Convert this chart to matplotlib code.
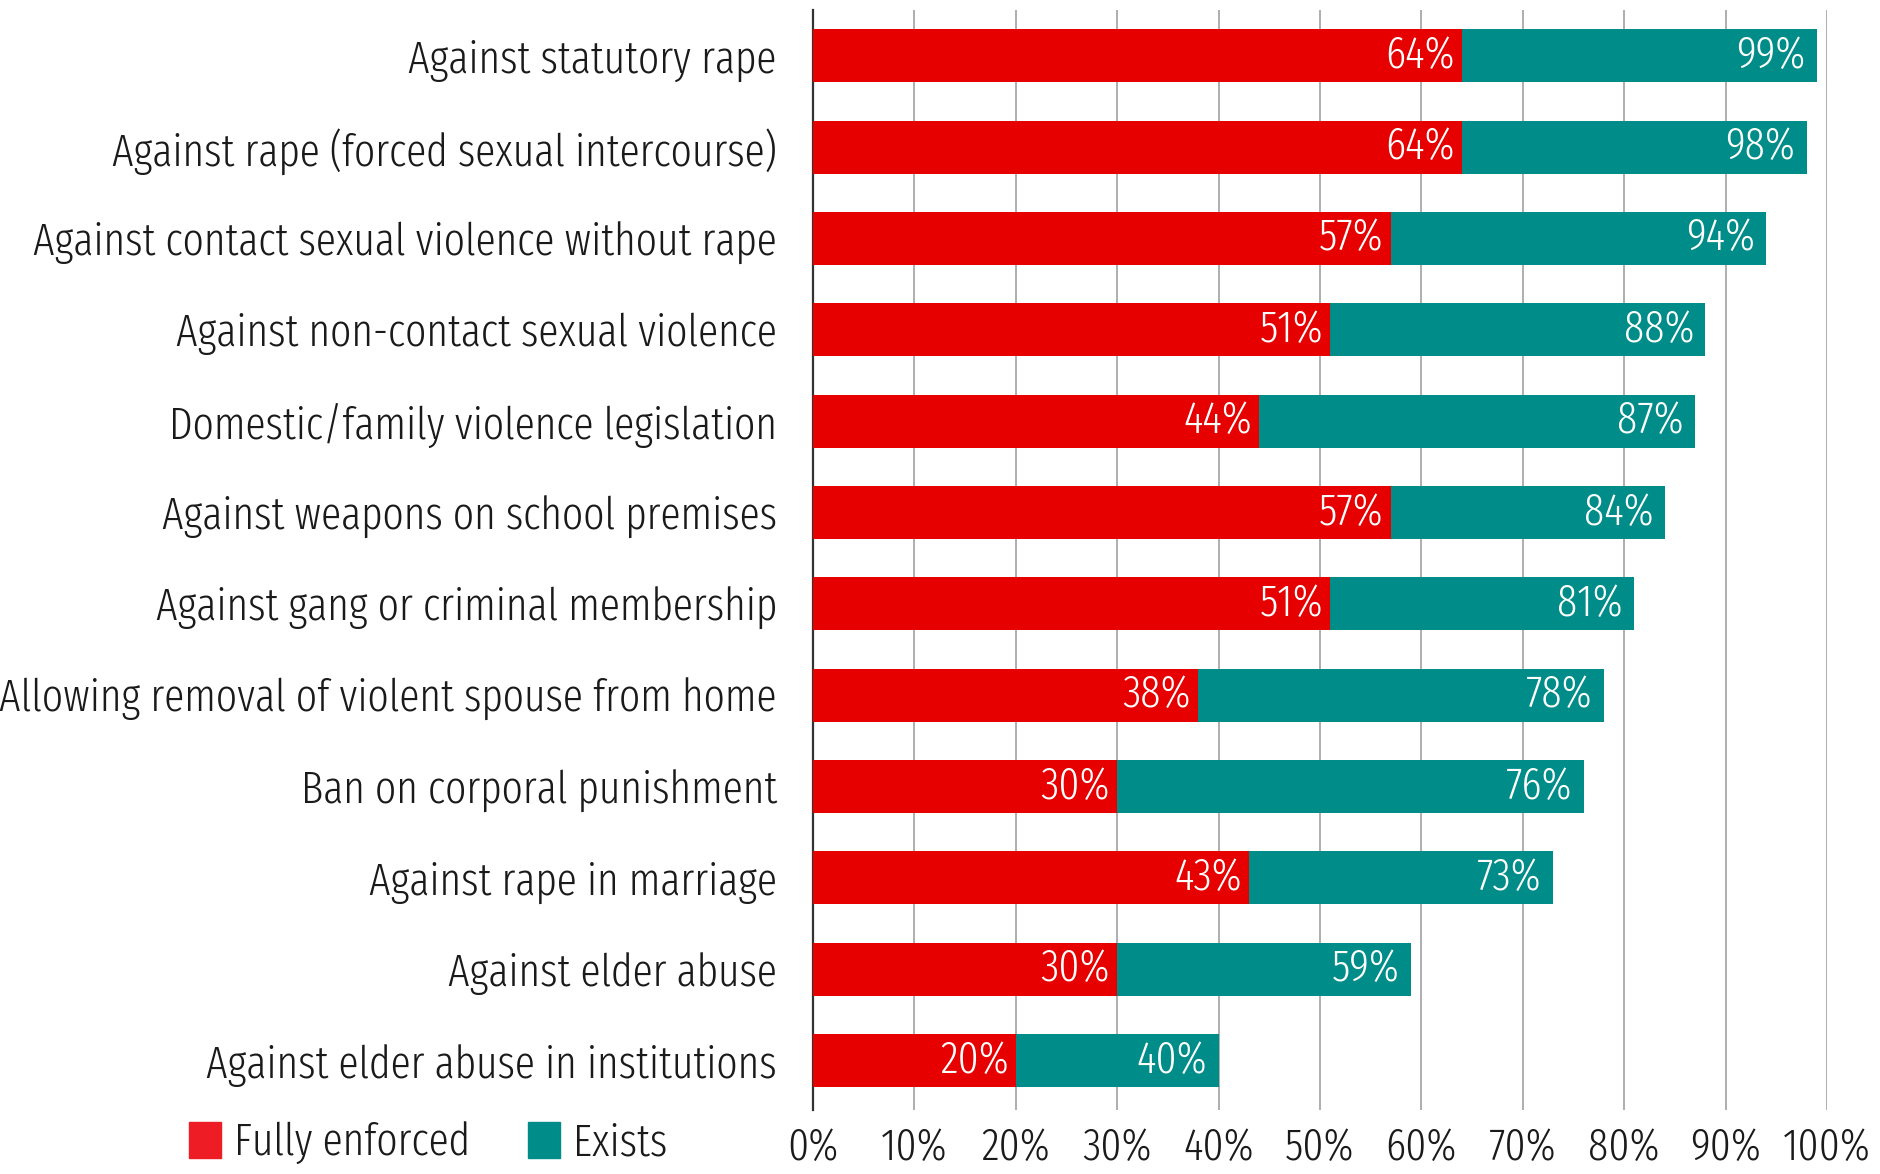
import matplotlib.pyplot as plt
from matplotlib.patches import Patch

plt.rcParams['font.family'] = ['Fira Sans Extra Condensed', 'DejaVu Sans']
plt.rcParams['font.weight'] = 300

categories = [
    'Against statutory rape',
    'Against rape (forced sexual intercourse)',
    'Against contact sexual violence without rape',
    'Against non-contact sexual violence',
    'Domestic/family violence legislation',
    'Against weapons on school premises',
    'Against gang or criminal membership',
    'Allowing removal of violent spouse from home',
    'Ban on corporal punishment',
    'Against rape in marriage',
    'Against elder abuse',
    'Against elder abuse in institutions',
]
fully_enforced = [64, 64, 57, 51, 44, 57, 51, 38, 30, 43, 30, 20]
exists = [99, 98, 94, 88, 87, 84, 81, 78, 76, 73, 59, 40]
xticks = list(range(0, 101, 10))

RED = '#E60000'
TEAL = '#008C88'
FS = 32.5

fig = plt.figure(figsize=(18.8, 11.74), dpi=100)
ax = fig.add_axes([0.4324, 0.0545, 0.9718 - 0.4324, 0.9915 - 0.0545])

y = list(range(len(categories)))
ax.barh(y, exists, height=0.58, color=TEAL, zorder=2)
ax.barh(y, fully_enforced, height=0.58, color=RED, zorder=3)

for yi, r, t in zip(y, fully_enforced, exists):
    ax.annotate(f'{r}%', (r, yi), xytext=(-5, 0), textcoords='offset points',
                ha='right', va='center', color='white', fontsize=FS, zorder=4)
    ax.annotate(f'{t}%', (t, yi), xytext=(-8, 0), textcoords='offset points',
                ha='right', va='center', color='white', fontsize=FS, zorder=4)

ax.set_xlim(0, 100)
ax.set_ylim(11.54, -0.5)
ax.set_xticks(xticks)
ax.set_xticklabels([f'{v}%' for v in xticks], fontsize=FS)
ax.set_yticks(y)
ax.set_yticklabels(categories, fontsize=FS, color='#1a1a1a')
ax.tick_params(axis='x', length=0, pad=12, labelcolor='#1a1a1a')
ax.tick_params(axis='y', length=0, pad=26)
ax.xaxis.grid(True, color='#a8a8a8', linewidth=1.3, zorder=0)
ax.set_axisbelow(True)
for s in ['top', 'right', 'bottom']:
    ax.spines[s].set_visible(False)
ax.spines['left'].set_color('#333333')
ax.spines['left'].set_linewidth(1.6)

handles = [Patch(color='#EE1C25', label='Fully enforced'),
           Patch(color=TEAL, label='Exists')]
leg = fig.legend(handles=handles, loc='center left', bbox_to_anchor=(0.1007, 0.026),
                 ncol=2, frameon=False, fontsize=FS, handlelength=0.7, handleheight=0.85,
                 handletextpad=0.28, columnspacing=1.3, borderpad=0, borderaxespad=0)
for txt in leg.get_texts():
    txt.set_color('#1a1a1a')

fig.savefig('out.png', dpi=100)
